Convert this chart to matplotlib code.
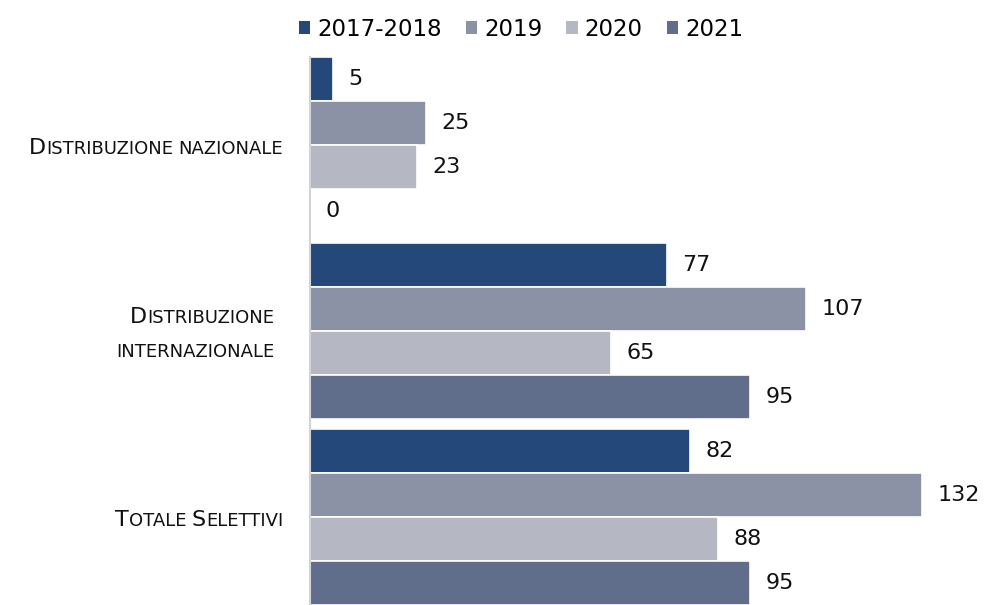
import numpy as np
import matplotlib
matplotlib.use("Agg")
import matplotlib.pyplot as plt
from matplotlib.patches import Patch
from matplotlib.transforms import IdentityTransform

categories = ["Distribuzione nazionale", "Distribuzione \ninternazionale", "Totale Selettivi"]
series = ["2017-2018", "2019", "2020", "2021"]
v_2017_2018 = [5, 77, 82]
v_2019 = [25, 107, 132]
v_2020 = [23, 65, 88]
v_2021 = [0, 95, 95]
values = [v_2017_2018, v_2019, v_2020, v_2021]
colors = ["#244879", "#8b92a6", "#b5b8c3", "#606e8c"]

W, H = 984, 605
fig = plt.figure(figsize=(W / 100, H / 100), dpi=100)
ax = fig.add_axes([310 / W, 0, 650 / W, 548 / H])

h = 0.2375
y = np.arange(len(categories))
for i, (name, vals) in enumerate(zip(series, values)):
    pos = y + (i - 1.5) * h
    ax.barh(pos, vals, height=h, color=colors[i], edgecolor="white", linewidth=1.2)
    for p, v in zip(pos, vals):
        ax.annotate(str(v), (v, p), xytext=(11, 0), textcoords="offset points",
                    ha="left", va="center", fontsize=16, color="#111111")

ax.set_xlim(0, 650 / 4.636)
ax.set_ylim(2 + 2 * h, -2 * h)
ax.set_xticks([])
ax.set_yticks([])
for s in ["top", "right", "bottom"]:
    ax.spines[s].set_visible(False)
ax.spines["left"].set_color("#d0d3da")
ax.spines["left"].set_linewidth(1.5)

handles = [Patch(facecolor=c, label=s) for c, s in zip(colors, series)]
fig.legend(handles=handles, loc="upper center", bbox_to_anchor=(521 / W, 1.005), ncol=4,
           frameon=False, fontsize=16.5, handlelength=0.5, handleheight=0.5,
           handletextpad=0.3, columnspacing=1.05)

# small caps category labels, drawn piece by piece
renderer = fig.canvas.get_renderer()
big, small = 16, 13


def small_caps_line(text, xr, yb):
    pieces = []
    for word_i, word in enumerate(text.split(" ")):
        if word == "":
            continue
        if word_i > 0 and pieces:
            pieces.append((" ", small))
        j = 0
        while j < len(word):
            up = word[j].isupper()
            k = j
            while k < len(word) and word[k].isupper() == up:
                k += 1
            pieces.append((word[j:k].upper(), big if up else small))
            j = k
    arts = []
    widths = []
    for txt, fs in pieces:
        if txt == " ":
            a1 = fig.text(0, 0, "A A", fontsize=fs, transform=IdentityTransform())
            a2 = fig.text(0, 0, "AA", fontsize=fs, transform=IdentityTransform())
            w = a1.get_window_extent(renderer).width - a2.get_window_extent(renderer).width
            a1.remove()
            a2.remove()
            arts.append(None)
            widths.append(w)
            continue
        t = fig.text(0, yb, txt, fontsize=fs, va="baseline", ha="left",
                     color="#111111", transform=IdentityTransform())
        arts.append(t)
        widths.append(t.get_window_extent(renderer).width)
    x = xr - sum(widths)
    for a, w in zip(arts, widths):
        if a is not None:
            a.set_x(x)
        x += w


label_right = [283, 274, 283]
for ci, cat in enumerate(categories):
    xd, yd = ax.transData.transform((0, ci))
    lines = cat.split("\n")
    n = len(lines)
    for li, line in enumerate(lines):
        base = yd - 9 + (n - 1) * 17 - li * 34
        small_caps_line(line.strip(), label_right[ci], base)

fig.savefig("out.png", dpi=100)
